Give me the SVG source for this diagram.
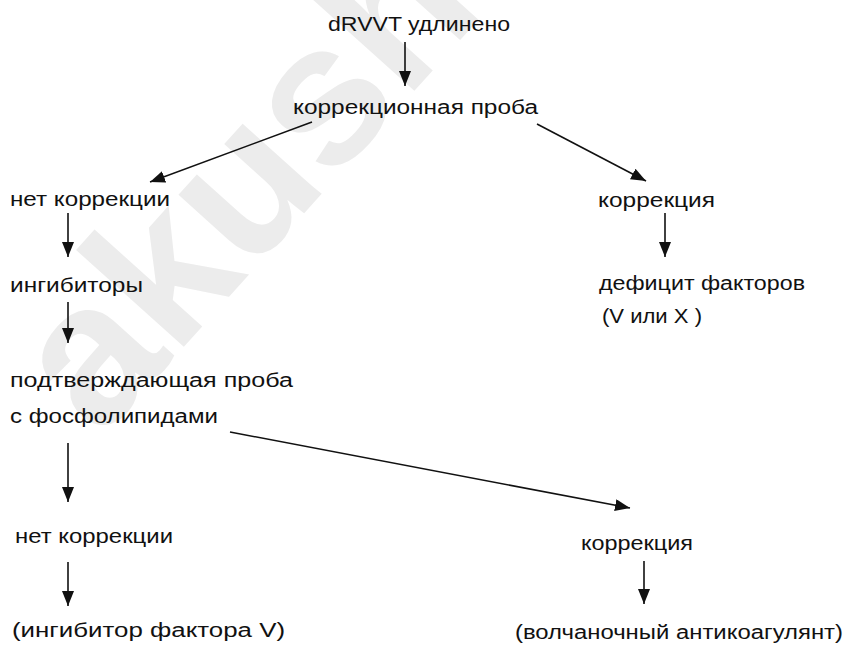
<svg xmlns="http://www.w3.org/2000/svg" width="846" height="645" viewBox="0 0 846 645">
  <style>
    .lbl { font-family: "Liberation Sans", Arial, Helvetica, sans-serif; font-size: 20px; fill: #111; }
    .wm { font-family: "Liberation Sans", Arial, sans-serif; font-size: 200px; font-weight: bold; fill: #ececec; }
    .edge { stroke: #111; stroke-width: 1.6; fill: none; marker-end: url(#head); }
  </style>
  <defs>
    <marker id="head" markerUnits="userSpaceOnUse" markerWidth="15" markerHeight="12" refX="15" refY="6" orient="auto">
      <path d="M0,0 L15,6 L0,12 Z" fill="#111"/>
    </marker>
  </defs>
  <rect width="846" height="645" fill="#fff"/>

  <!-- background watermark -->
  <text class="wm" x="100" y="440" transform="rotate(-48 100 440)">akush</text>

  <!-- connectors -->
  <g id="connectors">
    <line class="edge" x1="405" y1="42" x2="405" y2="86"/>
    <line class="edge" x1="312" y1="122" x2="150" y2="182"/>
    <line class="edge" x1="537" y1="124" x2="646" y2="181"/>
    <line class="edge" x1="68" y1="213" x2="68" y2="257"/>
    <line class="edge" x1="665" y1="213" x2="665" y2="257"/>
    <line class="edge" x1="68" y1="302" x2="68" y2="343"/>
    <line class="edge" x1="68" y1="443" x2="68" y2="502"/>
    <line class="edge" x1="230" y1="432" x2="630" y2="508"/>
    <line class="edge" x1="68" y1="562" x2="68" y2="606"/>
    <line class="edge" x1="644" y1="561" x2="644" y2="604"/>
  </g>

  <!-- nodes -->
  <g id="n-drvvt"><text class="lbl" x="328" y="31" textLength="182" lengthAdjust="spacingAndGlyphs">dRVVT удлинено</text></g>
  <g id="n-mix"><text class="lbl" x="293" y="114" textLength="245" lengthAdjust="spacingAndGlyphs">коррекционная проба</text></g>
  <g id="n-nocorr1"><text class="lbl" x="10" y="206" textLength="160" lengthAdjust="spacingAndGlyphs">нет коррекции</text></g>
  <g id="n-corr1"><text class="lbl" x="598" y="207" textLength="117" lengthAdjust="spacingAndGlyphs">коррекция</text></g>
  <g id="n-inhib"><text class="lbl" x="10" y="292" textLength="133" lengthAdjust="spacingAndGlyphs">ингибиторы</text></g>
  <g id="n-deficit">
    <text class="lbl" x="599" y="290" textLength="206" lengthAdjust="spacingAndGlyphs">дефицит  факторов</text>
    <text class="lbl" x="602" y="323" textLength="100" lengthAdjust="spacingAndGlyphs">(V или X )</text>
  </g>
  <g id="n-confirm">
    <text class="lbl" x="10" y="387" textLength="283" lengthAdjust="spacingAndGlyphs">подтверждающая  проба</text>
    <text class="lbl" x="10" y="423" textLength="208" lengthAdjust="spacingAndGlyphs">с фосфолипидами</text>
  </g>
  <g id="n-nocorr2"><text class="lbl" x="15" y="543" textLength="158" lengthAdjust="spacingAndGlyphs">нет коррекции</text></g>
  <g id="n-corr2"><text class="lbl" x="581" y="550" textLength="112" lengthAdjust="spacingAndGlyphs">коррекция</text></g>
  <g id="n-fv"><text class="lbl" x="12" y="637" textLength="273" lengthAdjust="spacingAndGlyphs">(ингибитор фактора V)</text></g>
  <g id="n-la"><text class="lbl" x="515" y="639" textLength="328" lengthAdjust="spacingAndGlyphs">(волчаночный антикоагулянт)</text></g>
</svg>
